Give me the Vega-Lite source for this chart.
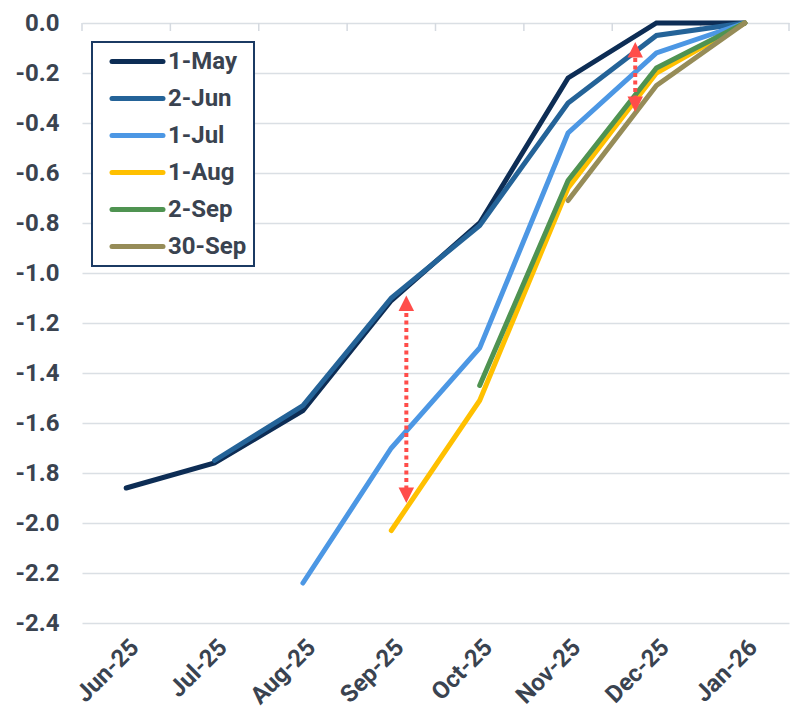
{
  "$schema": "https://vega.github.io/schema/vega-lite/v6.json",
  "width": 707,
  "height": 600,
  "autosize": "none",
  "padding": {"left": 82, "top": 23, "right": 9, "bottom": 91},
  "background": "white",
  "config": {
    "view": {"stroke": null},
    "font": "Roboto",
    "axis": {"labelFont": "Roboto", "labelFontWeight": "bold", "labelFontSize": 24, "labelColor": "#3A4350", "title": null}
  },
  "datasets": {
    "curves": [
      {"m": 0, "s": "1-May", "v": -1.86},
      {"m": 1, "s": "1-May", "v": -1.76},
      {"m": 2, "s": "1-May", "v": -1.55},
      {"m": 3, "s": "1-May", "v": -1.11},
      {"m": 4, "s": "1-May", "v": -0.80},
      {"m": 5, "s": "1-May", "v": -0.22},
      {"m": 6, "s": "1-May", "v": 0.0},
      {"m": 7, "s": "1-May", "v": 0.0},
      {"m": 1, "s": "2-Jun", "v": -1.75},
      {"m": 2, "s": "2-Jun", "v": -1.53},
      {"m": 3, "s": "2-Jun", "v": -1.10},
      {"m": 4, "s": "2-Jun", "v": -0.81},
      {"m": 5, "s": "2-Jun", "v": -0.32},
      {"m": 6, "s": "2-Jun", "v": -0.05},
      {"m": 7, "s": "2-Jun", "v": 0.0},
      {"m": 2, "s": "1-Jul", "v": -2.24},
      {"m": 3, "s": "1-Jul", "v": -1.70},
      {"m": 4, "s": "1-Jul", "v": -1.30},
      {"m": 5, "s": "1-Jul", "v": -0.44},
      {"m": 6, "s": "1-Jul", "v": -0.12},
      {"m": 7, "s": "1-Jul", "v": 0.0},
      {"m": 3, "s": "1-Aug", "v": -2.03},
      {"m": 4, "s": "1-Aug", "v": -1.51},
      {"m": 5, "s": "1-Aug", "v": -0.66},
      {"m": 6, "s": "1-Aug", "v": -0.20},
      {"m": 7, "s": "1-Aug", "v": 0.0},
      {"m": 4, "s": "2-Sep", "v": -1.45},
      {"m": 5, "s": "2-Sep", "v": -0.63},
      {"m": 6, "s": "2-Sep", "v": -0.18},
      {"m": 7, "s": "2-Sep", "v": 0.0},
      {"m": 5, "s": "30-Sep", "v": -0.71},
      {"m": 6, "s": "30-Sep", "v": -0.25},
      {"m": 7, "s": "30-Sep", "v": 0.0}
    ],
    "boundaries": [
      {"b": -0.5, "level": 0},
      {"b": 0.5, "level": 0},
      {"b": 1.5, "level": 0},
      {"b": 2.5, "level": 0},
      {"b": 3.5, "level": 0},
      {"b": 4.5, "level": 0},
      {"b": 5.5, "level": 0},
      {"b": 6.5, "level": 0},
      {"b": 7.5, "level": 0}
    ],
    "shafts": [
      {"x": 3.17, "y1": -1.13, "y2": -1.88},
      {"x": 5.76, "y1": -0.11, "y2": -0.32}
    ],
    "heads": [
      {"x": 3.17, "tip": -1.09, "dir": "up"},
      {"x": 3.17, "tip": -1.92, "dir": "down"},
      {"x": 5.76, "tip": -0.076, "dir": "up"},
      {"x": 5.76, "tip": -0.356, "dir": "down"}
    ]
  },
  "layer": [
    {
      "data": {"name": "boundaries"},
      "mark": {"type": "tick", "orient": "vertical", "size": 8, "thickness": 1.5, "yOffset": 4, "color": "#D5DAE0", "opacity": 1},
      "encoding": {
        "x": {"field": "b", "type": "quantitative"},
        "y": {"field": "level", "type": "quantitative"}
      }
    },
    {
      "data": {"name": "curves"},
      "mark": {"type": "line", "strokeWidth": 5, "strokeCap": "round", "strokeJoin": "miter"},
      "encoding": {
        "x": {
          "field": "m",
          "type": "quantitative",
          "scale": {"domain": [-0.5, 7.5], "nice": false, "zero": false},
          "axis": {
            "orient": "bottom",
            "values": [0, 1, 2, 3, 4, 5, 6, 7],
            "labelExpr": "['Jun-25','Jul-25','Aug-25','Sep-25','Oct-25','Nov-25','Dec-25','Jan-26'][datum.value]",
            "labelAngle": -45,
            "labelAlign": "right",
            "labelBaseline": "top",
            "labelPadding": 12,
            "grid": false,
            "domain": false,
            "ticks": false
          }
        },
        "y": {
          "field": "v",
          "type": "quantitative",
          "scale": {"domain": [-2.4, 0], "nice": false, "zero": false},
          "axis": {
            "values": [-2.4, -2.2, -2.0, -1.8, -1.6, -1.4, -1.2, -1.0, -0.8, -0.6, -0.4, -0.2, 0],
            "labelExpr": "replace(format(datum.value, '.1f'), '\u2212', '-')",
            "grid": true,
            "gridColor": "#DADFE4",
            "gridWidth": 1.5,
            "domain": false,
            "ticks": false,
            "labelPadding": 23
          }
        },
        "color": {
          "field": "s",
          "type": "nominal",
          "sort": ["1-May", "2-Jun", "1-Jul", "1-Aug", "2-Sep", "30-Sep"],
          "scale": {
            "domain": ["1-May", "2-Jun", "1-Jul", "1-Aug", "2-Sep", "30-Sep"],
            "range": ["#0D2D55", "#246398", "#4C97E4", "#FFC000", "#4F9351", "#968C58"]
          },
          "legend": {
            "orient": "none",
            "legendX": 10,
            "legendY": 19,
            "title": null,
            "symbolType": "M0.05,0H5.15",
            "symbolSize": 400,
            "symbolStrokeWidth": 5,
            "labelOffset": 44,
            "labelFont": "Roboto",
            "labelFontSize": 24,
            "labelFontWeight": "bold",
            "labelColor": "#3A4350",
            "rowPadding": 12,
            "padding": 7,
            "strokeColor": "#1B3A63",
            "fillColor": "white",
            "encode": {
              "legend": {"update": {"strokeWidth": {"value": 2}}},
              "symbols": {"update": {"strokeCap": {"value": "round"}}}
            }
          }
        }
      }
    },
    {
      "data": {"name": "shafts"},
      "mark": {"type": "rule", "color": "#FF4D4A", "strokeWidth": 4, "strokeDash": [4, 3.5]},
      "encoding": {
        "x": {"field": "x", "type": "quantitative"},
        "y": {"field": "y1", "type": "quantitative"},
        "y2": {"field": "y2"}
      }
    },
    {
      "data": {"name": "heads"},
      "mark": {"type": "point", "filled": true, "opacity": 1, "color": "#FF4D4A", "size": 240},
      "encoding": {
        "x": {"field": "x", "type": "quantitative"},
        "y": {"field": "tip", "type": "quantitative"},
        "shape": {
          "field": "dir",
          "type": "nominal",
          "scale": {"domain": ["up", "down"], "range": ["M0,0L-1,2L1,2Z", "M0,0L-1,-2L1,-2Z"]},
          "legend": null
        }
      }
    }
  ]
}
